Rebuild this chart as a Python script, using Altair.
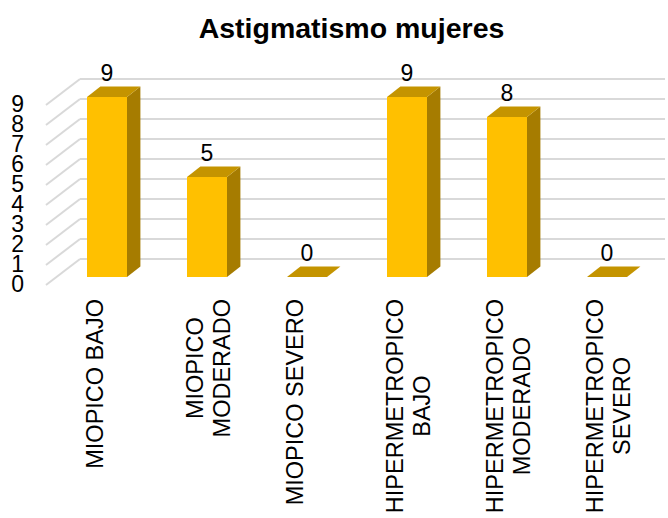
import altair as alt
import pandas as pd

# Chart data
categories = [
    "MIOPICO BAJO",
    "MIOPICO MODERADO",
    "MIOPICO SEVERO",
    "HIPERMETROPICO BAJO",
    "HIPERMETROPICO MODERADO",
    "HIPERMETROPICO SEVERO",
]
label_text = [
    "MIOPICO BAJO",
    "MIOPICO\nMODERADO",
    "MIOPICO SEVERO",
    "HIPERMETROPICO\nBAJO",
    "HIPERMETROPICO\nMODERADO",
    "HIPERMETROPICO\nSEVERO",
]
counts = [9, 5, 0, 9, 8, 0]
tick_values = list(range(10))

FONT = "Liberation Sans"
FRONT = "#FFC000"
SIDE = "#A67C00"
TOP = "#C49400"
GRID = "#D9D9D9"

# pseudo-3D geometry, in data units
HALF = 0.2      # half of the bar width (category units)
DEPTH_X = 0.134 # receding depth along x (category units)
DEPTH_Y = 0.52  # receding depth along y (value units)

PLOT_W, PLOT_H = 585, 180
LABEL_SIZE = 23.5

# Arial / Liberation Sans advance widths (per 1000 em) for the label glyphs
ADV = {"A": 667, "B": 667, "C": 722, "D": 722, "E": 667, "H": 722, "I": 278,
       "J": 500, "M": 833, "O": 778, "P": 667, "R": 722, "S": 667, "T": 611,
       "V": 667, " ": 278}


def text_width(s, size):
    return sum(ADV[c] for c in s) * size / 1000.0


bars = pd.DataFrame({"idx": range(len(categories)), "cat": categories, "value": counts})
bars["left"] = bars["idx"] - HALF
bars["right"] = bars["idx"] + HALF

side_rows, top_rows = [], []
for rec in bars.to_dict(orient="records"):
    c, v, lft, rgt = rec["cat"], rec["value"], rec["left"], rec["right"]
    side_rows.append({"cat": c, "x": rgt, "y": v, "y2": 0.0})
    side_rows.append({"cat": c, "x": rgt + DEPTH_X, "y": v + DEPTH_Y, "y2": DEPTH_Y})
    top_rows.append({"cat": c, "y": v, "x": lft, "x2": rgt})
    top_rows.append({"cat": c, "y": v + DEPTH_Y, "x": lft + DEPTH_X, "x2": rgt + DEPTH_X})
side = pd.DataFrame(side_rows)
top = pd.DataFrame(top_rows)

# category labels hang below the floor, each block centred on its longest line
labels = pd.DataFrame({"idx": range(len(categories)), "text": label_text})
labels["ypix"] = [
    PLOT_H + 22 + max(text_width(line, LABEL_SIZE) for line in t.split("\n")) / 2
    for t in label_text
]

grid = pd.DataFrame({"v": tick_values})

xs = alt.Scale(domain=[-0.27, 5.58], nice=False, zero=False)
ys = alt.Scale(domain=[0, 9], nice=False, zero=False)

# back wall gridlines
back_grid = alt.Chart(grid).mark_rule(color=GRID, strokeWidth=2, yOffset=-18).encode(
    x=alt.value(0),
    x2=alt.value(PLOT_W),
    y=alt.Y("v:Q", scale=ys, axis=None),
)

# gridlines running along the left side wall towards the front
side_grid = alt.Chart(grid).mark_rule(color=GRID, strokeWidth=2, yOffset=8, y2Offset=-18).encode(
    x=alt.value(-34),
    x2=alt.value(0),
    y=alt.Y("v:Q", scale=ys, axis=None),
    y2="v:Q",
)

# value axis labels on the front edge
tick_text = alt.Chart(grid).mark_text(
    font=FONT, fontSize=23, color="#000000", align="right", baseline="middle", yOffset=8
).encode(
    x=alt.value(-56),
    y=alt.Y("v:Q", scale=ys, axis=None),
    text="v:Q",
)

front = alt.Chart(bars).mark_bar(color=FRONT).encode(
    x=alt.X("left:Q", scale=xs, axis=None),
    x2="right:Q",
    y=alt.Y("value:Q", scale=ys, axis=None),
    y2=alt.datum(0),
)

sides = alt.Chart(side).mark_area(color=SIDE, orient="vertical").encode(
    x=alt.X("x:Q", scale=xs, axis=None),
    y=alt.Y("y:Q", scale=ys, axis=None),
    y2="y2:Q",
    detail="cat:N",
)

tops = alt.Chart(top).mark_area(color=TOP, orient="horizontal").encode(
    y=alt.Y("y:Q", scale=ys, axis=None),
    x=alt.X("x:Q", scale=xs, axis=None),
    x2="x2:Q",
    detail="cat:N",
)

values_text = alt.Chart(bars).mark_text(
    font=FONT, fontSize=23, color="#000000", baseline="alphabetic", align="center", yOffset=-16
).encode(
    x=alt.X("idx:Q", scale=xs, axis=None),
    y=alt.Y("value:Q", scale=ys, axis=None),
    text="value:Q",
)

cat_text = alt.Chart(labels).mark_text(
    font=FONT, fontSize=LABEL_SIZE, color="#000000", angle=270, align="center",
    baseline="middle", lineBreak="\n", lineHeight=27, xOffset=-11
).encode(
    x=alt.X("idx:Q", scale=xs, axis=None),
    y=alt.Y("ypix:Q", scale=None, axis=None),
    text="text:N",
)

chart = alt.layer(back_grid, side_grid, tick_text, front, sides, tops, values_text, cat_text).properties(
    width=PLOT_W,
    height=PLOT_H,
    padding={"left": 80, "top": 97, "right": 3, "bottom": 241},
    autosize=alt.AutoSizeParams(type="none"),
    background="#FFFFFF",
    title=alt.TitleParams(
        "Astigmatismo mujeres", font=FONT, fontSize=28.5, fontWeight="bold",
        color="#000000", anchor="middle", frame="group", dx=-21, offset=20,
    ),
).configure_view(stroke=None)

chart.save("out.html", embed_options={"renderer": "svg", "actions": False})
